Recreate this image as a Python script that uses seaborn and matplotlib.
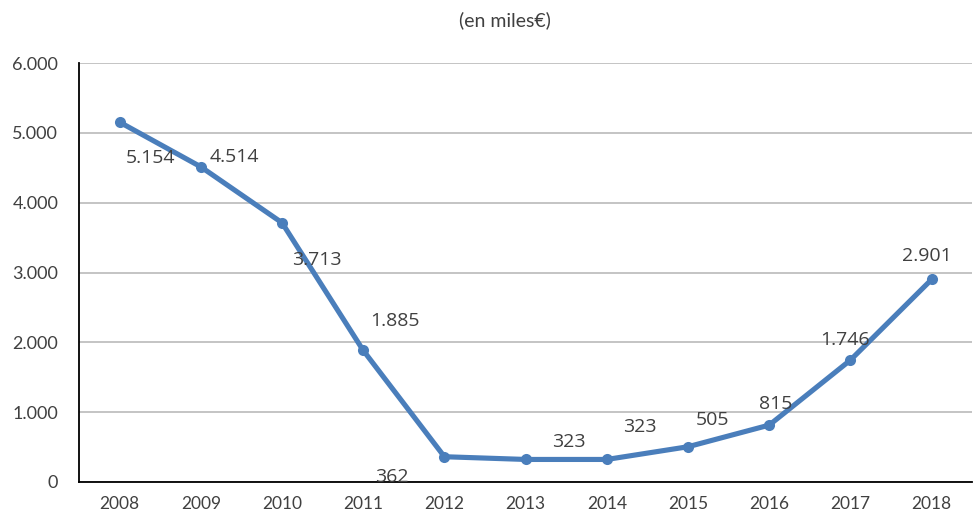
import matplotlib
matplotlib.use("Agg")
import matplotlib.pyplot as plt
import seaborn as sns
import pandas as pd
from matplotlib.ticker import FuncFormatter

years = ['2008', '2009', '2010', '2011', '2012', '2013', '2014', '2015', '2016', '2017', '2018']
values = [5154, 4514, 3713, 1885, 362, 323, 323, 505, 815, 1746, 2901]

# label offsets in pixels, relative to each point
label_offsets = [(31, -36), (34, 10), (35, -37), (32, 29), (-53, -20), (43, 17),
                 (33, 32), (24, 27), (6, 21), (-5, 20), (-5, 23)]

sns.set_style("white")
plt.rcParams['font.family'] = ['Lato', 'DejaVu Sans']

df = pd.DataFrame({'pos': range(len(years)), 'valor': values})

fig = plt.figure(figsize=(9.73, 5.17), dpi=100)
ax = fig.add_axes([0.0812, 0.0677, 0.918, 0.8103])

line_color = '#4A7EBB'
text_color = '#404040'

sns.lineplot(data=df, x='pos', y='valor', ax=ax, color=line_color, linewidth=3.7,
             marker='o', markersize=8, markeredgewidth=0, zorder=3)

for i, v in enumerate(values):
    lbl = f"{v:,}".replace(',', '.')
    dx, dy = label_offsets[i]
    ax.annotate(lbl, (i, v), xytext=(dx, dy), textcoords='offset pixels',
                ha='center', va='center', fontsize=14, color=text_color,
                family=['Open Sans', 'DejaVu Sans'])

ax.set_xlim(-0.5, len(years) - 0.5)
ax.set_ylim(0, 6000)
ax.set_yticks(range(0, 6001, 1000))
ax.yaxis.set_major_formatter(FuncFormatter(lambda v, p: f"{int(v):,}".replace(',', '.')))

# tick marks between categories, labels at the centres
ax.set_xticks([i - 0.5 for i in range(len(years) + 1)])
ax.set_xticklabels([])
ax.set_xticks(range(len(years)), minor=True)
ax.set_xticklabels(years, minor=True)
ax.tick_params(axis='x', which='major', direction='inout', length=10, width=1.3, color='black')
ax.tick_params(axis='x', which='minor', length=0, pad=10, labelsize=12.5, labelcolor=text_color)
ax.tick_params(axis='y', direction='inout', length=10, width=1.3, color='black',
               labelsize=13, labelcolor=text_color, pad=10)

ax.grid(axis='y', color='#BFBFBF', linewidth=1.3)
ax.set_axisbelow(True)
ax.set_xlabel('')
ax.set_ylabel('')

for s in ['top', 'right']:
    ax.spines[s].set_visible(False)
for s in ['left', 'bottom']:
    ax.spines[s].set_color('black')
    ax.spines[s].set_linewidth(1.3)

fig.text(505 / 973, 1 - 20 / 517, '(en miles€)', ha='center', va='center',
         fontsize=14, color=text_color)

plt.savefig('out.png', dpi=100)
